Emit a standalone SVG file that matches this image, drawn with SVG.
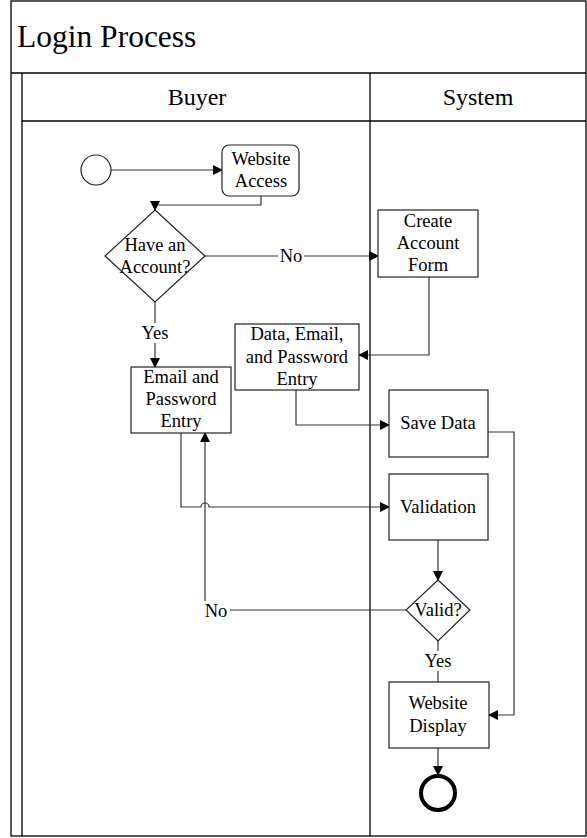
<svg xmlns="http://www.w3.org/2000/svg" width="587" height="838" viewBox="0 0 587 838">
<defs>
<style>
.frame{fill:none;stroke:#000;stroke-width:1.3}
.box{fill:#fff;stroke:#222;stroke-width:1.2}
.line{fill:none;stroke:#333;stroke-width:1.2}
.t{font-family:"Liberation Serif","Times New Roman","DejaVu Serif",serif;font-size:18.5px;fill:#000;text-anchor:middle}
.lbl{font-family:"Liberation Serif","Times New Roman","DejaVu Serif",serif;font-size:18.5px;fill:#000;text-anchor:middle}
.h{font-family:"Liberation Serif","Times New Roman","DejaVu Serif",serif;font-size:24px;fill:#000;text-anchor:middle}
.title{font-family:"Liberation Serif","Times New Roman","DejaVu Serif",serif;font-size:31.5px;fill:#000}
</style>
<marker id="arr" markerWidth="10" markerHeight="10" refX="9" refY="5" orient="auto" markerUnits="userSpaceOnUse">
<path d="M0,0 L10,5 L0,10 Z" fill="#000"/>
</marker>
</defs>
<rect width="587" height="838" fill="#fff"/>
<g id="pool">
<rect class="frame" x="11" y="1" width="575" height="835"/>
<line class="frame" x1="11" y1="73" x2="586" y2="73"/>
<line class="frame" x1="22" y1="73" x2="22" y2="836"/>
<line class="frame" x1="22" y1="121" x2="586" y2="121"/>
<line class="frame" x1="370" y1="73" x2="370" y2="836"/>
<text class="title" x="17" y="47">Login Process</text>
<text class="h" x="197" y="105">Buyer</text>
<text class="h" x="478" y="105">System</text>
</g>
<g id="connectors">
<line class="line" x1="111" y1="170" x2="222" y2="170" marker-end="url(#arr)"/>
<polyline class="line" points="261,196 261,205 155,205 155,210" marker-end="url(#arr)"/>
<line class="line" x1="205" y1="256" x2="378" y2="256" marker-end="url(#arr)"/>
<polyline class="line" points="429,277 429,355 359,355" marker-end="url(#arr)"/>
<polyline class="line" points="296,390 296,425 389,425" marker-end="url(#arr)"/>
<polyline class="line" points="488,432 514,432 514,715 489,715" marker-end="url(#arr)"/>
<line class="line" x1="155" y1="302" x2="155" y2="367" marker-end="url(#arr)"/>
<path class="line" d="M181,433 L181,507 L201,507 A4,4 0 0 1 209,507 L389,507" marker-end="url(#arr)"/>
<line class="line" x1="438" y1="540" x2="438" y2="580" marker-end="url(#arr)"/>
<polyline class="line" points="406,610 205,610 205,433" marker-end="url(#arr)"/>
<line class="line" x1="438" y1="641" x2="438" y2="682"/>
<line class="line" x1="438" y1="748" x2="438" y2="775" marker-end="url(#arr)"/>
<rect x="278" y="246" width="26" height="20" fill="#fff"/>
<text class="lbl" x="291" y="262">No</text>
<rect x="138" y="323" width="34" height="20" fill="#fff"/>
<text class="lbl" x="155" y="339">Yes</text>
<rect x="202" y="601" width="28" height="20" fill="#fff"/>
<text class="lbl" x="216" y="617">No</text>
<rect x="421" y="651" width="34" height="20" fill="#fff"/>
<text class="lbl" x="438" y="667">Yes</text>
</g>
<g id="start"><circle class="box" cx="96" cy="170" r="15"/></g>
<g id="website-access">
<rect class="box" x="222" y="145" width="77" height="51" rx="7"/>
<text class="t" x="261" y="165">Website</text>
<text class="t" x="261" y="187">Access</text>
</g>
<g id="have-account">
<polygon class="box" points="155,210 205,256 155,302 105,256"/>
<text class="t" x="155" y="251">Have an</text>
<text class="t" x="155" y="273">Account?</text>
</g>
<g id="create-account">
<rect class="box" x="378" y="210" width="100" height="67"/>
<text class="t" x="428" y="227">Create</text>
<text class="t" x="428" y="249">Account</text>
<text class="t" x="428" y="271">Form</text>
</g>
<g id="data-entry">
<rect class="box" x="235" y="324" width="124" height="66"/>
<text class="t" x="297" y="340">Data, Email,</text>
<text class="t" x="297" y="363">and Password</text>
<text class="t" x="297" y="385">Entry</text>
</g>
<g id="email-entry">
<rect class="box" x="131" y="367" width="100" height="66"/>
<text class="t" x="181" y="383">Email and</text>
<text class="t" x="181" y="405">Password</text>
<text class="t" x="181" y="427">Entry</text>
</g>
<g id="save-data">
<rect class="box" x="389" y="390" width="99" height="67"/>
<text class="t" x="438" y="429">Save Data</text>
</g>
<g id="validation">
<rect class="box" x="389" y="474" width="99" height="66"/>
<text class="t" x="438" y="513">Validation</text>
</g>
<g id="valid">
<polygon class="box" points="438,580 470,610 438,641 406,610"/>
<text class="t" x="438" y="616">Valid?</text>
</g>
<g id="website-display">
<rect class="box" x="389" y="682" width="100" height="66"/>
<text class="t" x="438" y="709">Website</text>
<text class="t" x="438" y="732">Display</text>
</g>
<g id="end"><circle cx="438" cy="793" r="17" fill="#fff" stroke="#000" stroke-width="4"/></g>
</svg>
